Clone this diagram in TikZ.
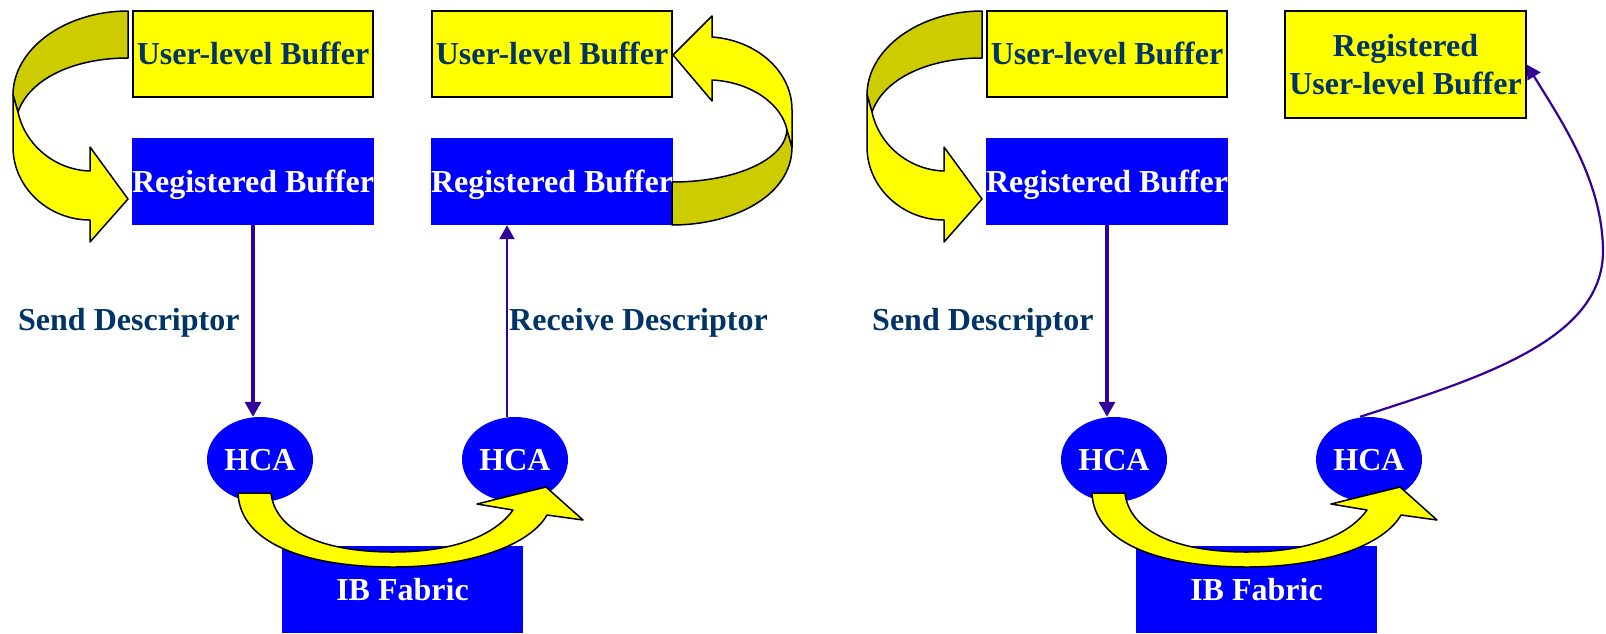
\documentclass[tikz,border=0pt]{standalone}
\usepackage{fontspec}
\setmainfont{Liberation Serif}
\usetikzlibrary{arrows.meta,shapes.geometric}
\definecolor{ybright}{HTML}{FFFF00}
\definecolor{ydark}{HTML}{CCCC00}
\definecolor{bblue}{HTML}{0000FF}
\definecolor{navy}{HTML}{003366}
\definecolor{connc}{HTML}{330099}
\tikzset{
  txt/.style={font=\fontsize{32}{38}\selectfont\bfseries, inner sep=0pt, text height=21pt, text depth=0pt},
  ybox/.style={txt, draw=black, line width=1.5pt, fill=ybright, text=navy, minimum width=240pt, minimum height=86pt},
  bbox/.style={txt, fill=bblue, text=white, minimum width=240pt, minimum height=87pt},
  hcanode/.style={txt, ellipse, fill=bblue, text=white, minimum width=106pt, minimum height=85pt},
  fabric/.style={txt, fill=bblue, text=white, minimum width=241pt, minimum height=87pt},
  lbl/.style={txt, text=navy, anchor=base west},
  backpart/.style={fill=ydark, draw=black, line width=1.5pt, line join=round},
  frontpart/.style={fill=ybright, draw=black, line width=1.5pt, line join=round},
  conn/.style={draw=connc, line width=3.3pt, -{Triangle[length=15pt,width=16pt]}},
  connthin/.style={draw=connc, line width=2.2pt, -{Triangle[length=14pt,width=15pt]}}
}
\begin{document}
\begin{tikzpicture}[x=1pt,y=-1pt]
\useasboundingbox (0,0) rectangle (1606,633);

% ---------- left panel ----------
\node[ybox] (ub1) at (253,54) {User-level Buffer};
\node[bbox] (rb1) at (253,181.5) {Registered Buffer};
\node[ybox] (ub2) at (552,54) {User-level Buffer};
\node[bbox] (rb2) at (552,181.5) {Registered Buffer};
\node[hcanode] (h1) at (260,459.5) {HCA};
\node[hcanode] (h2) at (515,459.5) {HCA};
\node[fabric] (f1) at (402.5,589.5) {IB Fabric};
\node[lbl] (sd1) at (18,330) {Send Descriptor};
\node[lbl] (rd1) at (509,330) {Receive Descriptor};

% ---------- right panel ----------
\node[ybox] (ub3) at (1107,54) {User-level Buffer};
\node[bbox] (rb3) at (1107,181.5) {Registered Buffer};
\node[ybox, minimum width=241pt, minimum height=107pt, align=center, text height=59pt] (rub) at (1405.5,64.5) {Registered\\User-level Buffer};
\node[hcanode] (h3) at (1114,459.5) {HCA};
\node[hcanode] (h4) at (1369,459.5) {HCA};
\node[fabric] (f2) at (1256.5,589.5) {IB Fabric};
\node[lbl] (sd2) at (872,330) {Send Descriptor};

% ---------- curved copy arrows (top) ----------
\foreach \dx in {0,854}{
\begin{scope}[xshift=\dx pt]
  \path[backpart] (128,11) .. controls (65,11) and (13,49) .. (13,95)
     -- (18,112) .. controls (30,78) and (75,58) .. (128,58) -- cycle;
  \path[frontpart] (13,95) -- (18,112) .. controls (25,145) and (55,170) .. (90,171)
     -- (90,147) -- (128,199) -- (90,242) -- (90,220)
     .. controls (48,220) and (13,187) .. (13,147) -- cycle;
\end{scope}
}
\path[backpart] (672,182) .. controls (735,182) and (785,160) .. (787,130)
   -- (792,147) .. controls (792,195) and (735,225) .. (672,225) -- cycle;
\path[frontpart] (792,147) -- (792,110) .. controls (792,70) and (755,40) .. (712,37)
   -- (712,16) -- (673,55) -- (712,101) -- (712,80)
   .. controls (752,82) and (782,105) .. (787,130) -- cycle;

% ---------- curved fabric arrows (bottom) ----------
\foreach \dx in {0,854}{
\begin{scope}[xshift=\dx pt]
  \path[frontpart] (238,493) .. controls (240,545) and (310,567) .. (393,567)
     .. controls (470,567) and (530,545) .. (547,515)
     -- (583,520) -- (546,487) -- (477,504) -- (513,510)
     .. controls (495,535) and (455,552) .. (393,552)
     .. controls (320,552) and (275,530) .. (271,493) -- cycle;
\end{scope}
}

% ---------- connectors ----------
\draw[conn] (rb1.south) -- (rb1.south |- h1.north);
\draw[connthin] ([xshift=-8pt]h2.north) -- ([xshift=-8pt]h2.north |- rb2.south);
\draw[conn] (rb3.south) -- (rb3.south |- h3.north);
\draw[connthin] ([xshift=-9pt]h4.north) .. controls (1480,378) and (1604,340) .. (1603,250)
   .. controls (1602,180) and (1562,122) .. (rub.east);
\end{tikzpicture}
\end{document}
